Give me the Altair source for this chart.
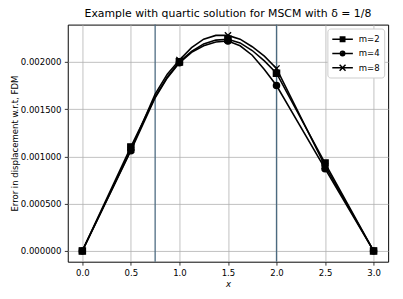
import altair as alt
import pandas as pd

# ---- data ----
x_vals = [0.0, 0.5, 0.75, 0.875, 1.0, 1.125, 1.25, 1.375, 1.5, 1.625, 1.75, 1.875, 2.0, 2.5, 3.0]
m2_vals = [0.0, 0.00110, 0.00163, 0.00184, 0.00200, 0.00211, 0.00219, 0.00223, 0.00224,
           0.00220, 0.00212, 0.00201, 0.00188, 0.00093, 0.0]
m4_vals = [0.0, 0.00106, 0.00162, 0.00183, 0.00199, 0.00210, 0.00217, 0.00221, 0.00222,
           0.00217, 0.00207, 0.00192, 0.00175, 0.00087, 0.0]
m8_vals = [0.0, 0.00107, 0.00166, 0.00187, 0.00202, 0.00215, 0.00224, 0.00228, 0.00228,
           0.00224, 0.00216, 0.00206, 0.00193, 0.00090, 0.0]
marker_x = [0.0, 0.5, 1.0, 1.5, 2.0, 2.5, 3.0]
series_names = ["m=2", "m=4", "m=8"]
vline_x = [0.75, 2.0]
x_ticks = [0.0, 0.5, 1.0, 1.5, 2.0, 2.5, 3.0]
y_ticks = [0.0, 0.0005, 0.001, 0.0015, 0.002]

rows = []
for name, vals in zip(series_names, [m2_vals, m4_vals, m8_vals]):
    for x, v in zip(x_vals, vals):
        rows.append({"x": x, "err": v, "series": name, "marker": x in marker_x})
df = pd.DataFrame(rows)
df_v = pd.DataFrame({"xv": vline_x})

FONT = "DejaVu Sans"
x_scale = alt.Scale(domain=[-0.15, 3.15], nice=False, zero=False)
y_scale = alt.Scale(domain=[-0.000114, 0.002394], nice=False, zero=False)

x_enc = alt.X("x:Q", scale=x_scale,
              axis=alt.Axis(values=x_ticks, format=".1f", title="x", titleFontStyle="italic"))
y_enc = alt.Y("err:Q", scale=y_scale,
              axis=alt.Axis(values=y_ticks, format=".6f", title="Error in displacement w.r.t, FDM"))

# point shapes
sq = "square"
ci = "circle"
xx = "M-1,-1L1,1M-1,1L1,-1"
# legend symbols: line + marker drawn with strokes only (unit = 6px; line spans 21px)
lg_sq = ("M-1,0H2.5"
         "M0.25,-0.375H1.25M0.25,-0.125H1.25M0.25,0.125H1.25M0.25,0.375H1.25")
lg_ci = ("M-1,0H2.5"
         "M1.125,0A0.375,0.375,0,1,1,0.375,0A0.375,0.375,0,1,1,1.125,0"
         "M0.875,0A0.125,0.125,0,1,1,0.625,0A0.125,0.125,0,1,1,0.875,0")
lg_xx = "M-1,0H2.5M0.25,-0.5L1.25,0.5M0.25,0.5L1.25,-0.5"

vlines = alt.Chart(df_v).mark_rule(color="#4b6a80", strokeWidth=1.3).encode(
    x=alt.X("xv:Q", scale=x_scale)
)

lines = alt.Chart(df).mark_line(color="black", strokeWidth=1.6).encode(
    x=x_enc, y=y_enc, detail="series:N"
)

points = alt.Chart(df).transform_filter("datum.marker").mark_point(
    filled=True, fill="black", stroke="black", strokeWidth=1.4, opacity=1, size=40
).encode(
    x=alt.X("x:Q", scale=x_scale),
    y=alt.Y("err:Q", scale=y_scale),
    shape=alt.Shape("series:N", scale=alt.Scale(domain=series_names, range=[sq, ci, xx]), legend=None),
)

legend_layer = alt.Chart(df).mark_point(opacity=0, color="black").encode(
    x=alt.X("x:Q", scale=x_scale),
    y=alt.Y("err:Q", scale=y_scale),
    shape=alt.Shape(
        "series:N",
        scale=alt.Scale(domain=series_names, range=[lg_sq, lg_ci, lg_xx]),
        legend=alt.Legend(
            title=None, orient="top-right", offset=4,
            symbolSize=144, symbolStrokeColor="black",
            symbolStrokeWidth=1.5, symbolOpacity=1,
            labelFont=FONT, labelFontSize=8.7, labelColor="black",
            rowPadding=1.5, labelOffset=14, columnPadding=0,
            fillColor="white", strokeColor="#cccccc", cornerRadius=3,
            padding=4,
        ),
    ),
)

chart = alt.layer(vlines, lines, points, legend_layer).resolve_scale(
    shape="independent"
).properties(
    width=327, height=242,
    padding={"left": 61, "top": 14, "right": 7, "bottom": 30},
    autosize=alt.AutoSizeParams(type="none"),
    title=alt.Title("Example with quartic solution for MSCM with δ = 1/8",
                    font=FONT, fontSize=11.1, fontWeight="normal", color="black", offset=5),
).configure_view(
    stroke="black", strokeWidth=1
).configure_axis(
    labelFont=FONT, labelFontSize=8.7, labelColor="black",
    titleFont=FONT, titleFontSize=8.7, titleColor="black", titleFontWeight="normal",
    domain=False, tickColor="black", tickSize=3.5, tickWidth=0.8,
    grid=True, gridColor="#b0b0b0", gridWidth=0.8, labelPadding=3.5,
).configure_axisY(
    titlePadding=1
).configure_axisX(
    titlePadding=3
)

chart.save("out.html", embed_options={"renderer": "svg", "actions": False})
